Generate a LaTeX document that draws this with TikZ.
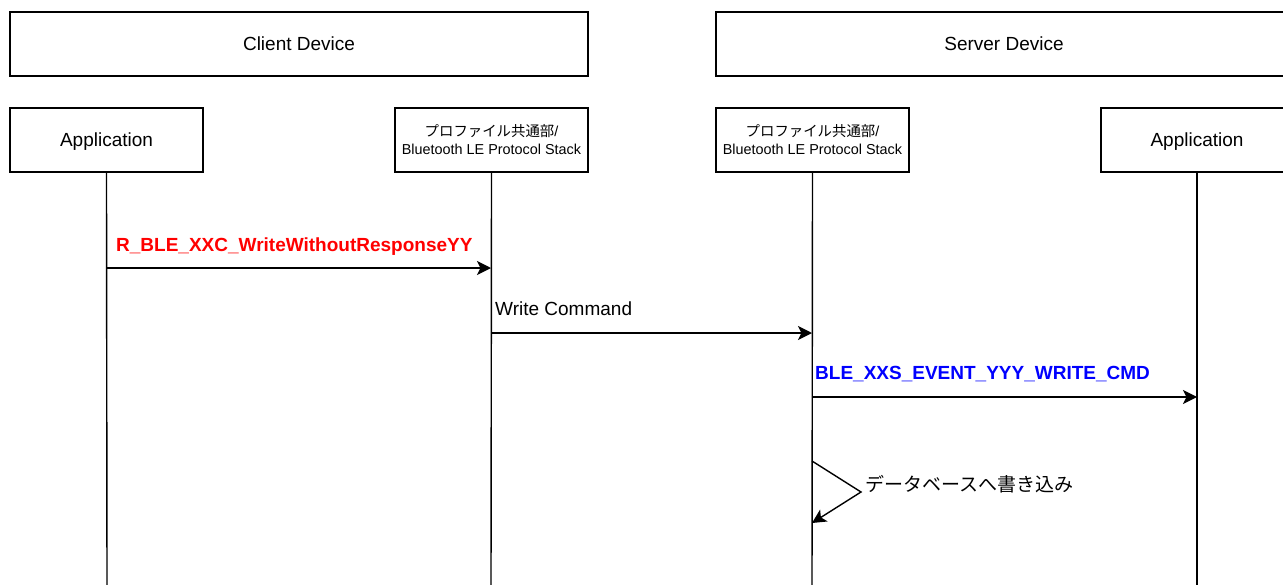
\documentclass[tikz,border=0pt]{standalone}
\usepackage{fontspec}
\setmainfont{Liberation Sans}
\newfontfamily\cjk{Noto Sans CJK JP}
\usetikzlibrary{arrows.meta}
\begin{document}
\begin{tikzpicture}[x=1pt,y=-1pt,
  box/.style={draw,line width=1.4pt,inner sep=0pt,text depth=1pt,font=\fontsize{19}{22}\selectfont},
  smallbox/.style={draw,line width=1.4pt,inner sep=0pt,align=center,font=\fontsize{14.4}{18}\selectfont},
  life/.style={line width=1.4pt},
  msg/.style={line width=1.4pt,-{Stealth[length=14pt,width=14pt,inset=3.5pt]}},
  lbl/.style={anchor=base west,inner sep=0pt,font=\fontsize{19}{22}\selectfont},
  blbl/.style={lbl,font=\fontsize{19}{22}\selectfont\bfseries}
]
\useasboundingbox (0,0) rectangle (1283,584);
\clip (0,0) rectangle (1283,584);
% header boxes
\node[box,minimum width=578pt,minimum height=64pt] (client) at (299,44) {Client Device};
\node[box,minimum width=576pt,minimum height=64pt] (server) at (1004,44) {Server Device};
% participants
\node[box,minimum width=193pt,minimum height=64pt] (app1) at (106.5,140) {Application};
\node[smallbox,minimum width=193pt,minimum height=64pt] (stk1) at (491.5,140) {{\cjk プロファイル共通部}/\\Bluetooth LE Protocol Stack};
\node[smallbox,minimum width=193pt,minimum height=64pt] (stk2) at (812.5,140) {{\cjk プロファイル共通部}/\\Bluetooth LE Protocol Stack};
\node[box,minimum width=192pt,minimum height=64pt] (app2) at (1197,140) {Application};
% lifelines
\coordinate (e1) at (107,590);
\coordinate (e2) at (491,590);
\coordinate (e3) at (812,590);
\coordinate (e4) at (1197,590);
\draw[life] (app1.south) -- (e1);
\draw[life] (stk1.south) -- (e2);
\draw[life] (stk2.south) -- (e3);
\draw[life] (app2.south) -- (e4);
% message points
\coordinate (m1s) at (107,268);
\coordinate (m1e) at (491,268);
\coordinate (m2s) at (491,333);
\coordinate (m2e) at (812,333);
\coordinate (m3s) at (812,397);
\coordinate (m3e) at (1197,397);
\coordinate (s1) at (812,461);
\coordinate (s2) at (861,492);
\coordinate (s3) at (812,523);
\draw[msg] (m1s) -- (m1e);
\draw[msg] (m2s) -- (m2e);
\draw[msg] (m3s) -- (m3e);
\draw[msg] (s1) -- (s2) -- (s3);
% labels
\node[blbl,text={rgb,255:red,255;green,0;blue,0}] (l1) at (116,251) {R\_BLE\_XXC\_WriteWithoutResponseYY};
\node[lbl] (l2) at (495,315) {Write Command};
\node[blbl,text={rgb,255:red,0;green,0;blue,255}] (l3) at (815,379) {BLE\_XXS\_EVENT\_YYY\_WRITE\_CMD};
\node[lbl,anchor=west,font=\fontsize{19}{22}\selectfont\cjk] (l4) at (865,484) {データベースへ書き込み};
\end{tikzpicture}
\end{document}
